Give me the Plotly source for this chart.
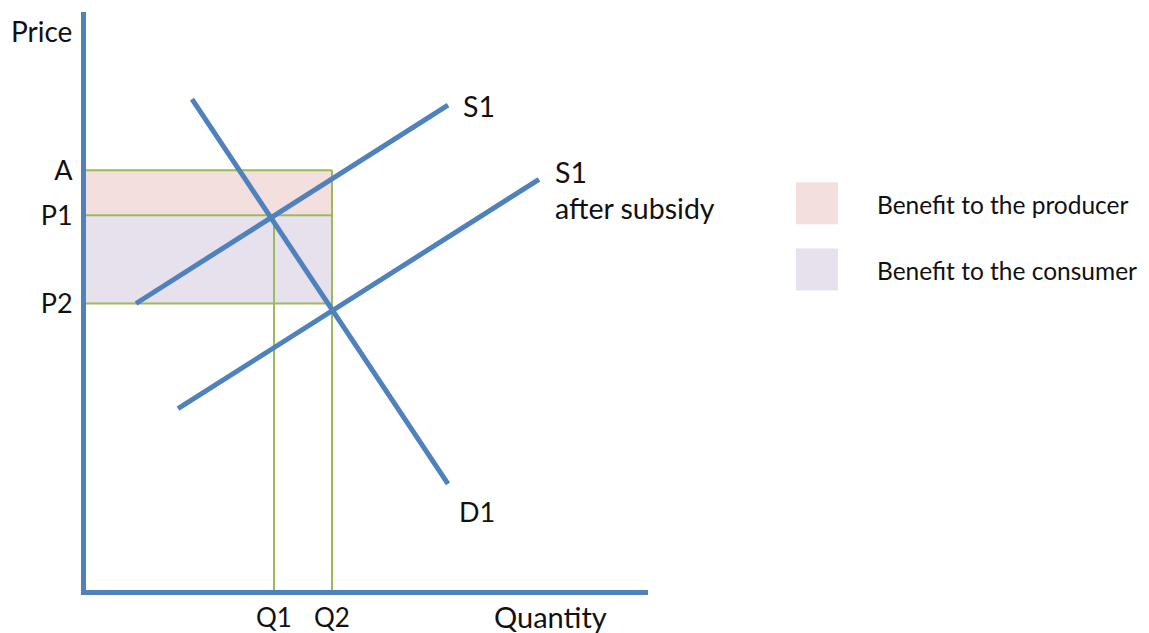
import plotly.graph_objects as go

# ---- data (diagram units: 1 unit = 1 px from the axis origin) ----
price_labels = ["P2", "P1", "A"]
price_values = [286, 374, 419]          # P2, P1, A
qty_labels = ["Q1", "Q2"]
qty_values = [188, 246]                 # Q1, Q2

demand_x = [106, 362]
demand_y = [490, 106]
supply_x = [50, 362]
supply_y = [286, 484]
subsidy_x = [92, 453]
subsidy_y = [181, 410]

legend_labels = ["Benefit to the producer", "Benefit to the consumer"]

BLUE = "#4F81BD"
GREEN = "#9BBB59"
PINK = "#F2DFDE"
LAV = "#E6E1EC"
FONT = "Lato"
INK = "#111111"

P2, P1, A = price_values
Q1, Q2 = qty_values

fig = go.Figure()

# benefit areas
fig.add_trace(go.Scatter(x=[0, Q2, Q2, 0, 0], y=[P1, P1, A, A, P1], fill="toself",
                         fillcolor=PINK, line=dict(width=0), mode="lines",
                         hoverinfo="skip", showlegend=False))
fig.add_trace(go.Scatter(x=[0, Q2, Q2, 0, 0], y=[P2, P2, P1, P1, P2], fill="toself",
                         fillcolor=LAV, line=dict(width=0), mode="lines",
                         hoverinfo="skip", showlegend=False))

# green guide lines
for pv in price_values:
    fig.add_trace(go.Scatter(x=[0, Q2], y=[pv, pv], mode="lines",
                             line=dict(color=GREEN, width=2), showlegend=False, hoverinfo="skip"))
fig.add_trace(go.Scatter(x=[Q1, Q1], y=[0, P1], mode="lines",
                         line=dict(color=GREEN, width=2), showlegend=False, hoverinfo="skip"))
fig.add_trace(go.Scatter(x=[Q2, Q2], y=[0, A], mode="lines",
                         line=dict(color=GREEN, width=2), showlegend=False, hoverinfo="skip"))

# curves
for xs, ys in [(demand_x, demand_y), (supply_x, supply_y), (subsidy_x, subsidy_y)]:
    fig.add_trace(go.Scatter(x=xs, y=ys, mode="lines", line=dict(color=BLUE, width=5),
                             showlegend=False, hoverinfo="skip"))

# reference frame is 1149x633; the photographed page comes out slightly squeezed
# vertically, so the figure is laid out with a small vertical stretch
REF_W, REF_H = 1149, 633
SY = 645 / 633
W, H = REF_W, round(REF_H * SY)
ML, MR = 86, REF_W - 648
MT, MB = 12 * SY, (REF_H - 589) * SY
PW = REF_W - 86 - MR          # plot width in diagram units
PH = 589 - 12                 # plot height in diagram units


def px(xp):
    return (xp - 86) / PW


def py(yp):
    return (589 - yp) / PH


annos = []
annos.append(dict(x=px(9), y=py(31), xref="paper", yref="paper", text="Price",
                  showarrow=False, xanchor="left", yanchor="middle",
                  font=dict(family=FONT, size=28, color=INK)))
annos.append(dict(x=px(550), y=py(615), xref="paper", yref="paper", text="Quantity",
                  showarrow=False, xanchor="center", yanchor="middle",
                  font=dict(family=FONT, size=29, color=INK)))
lab = dict(family=FONT, size=28.5, color=INK)
annos.append(dict(x=supply_x[1] + 13, y=supply_y[1] - 1, xref="x", yref="y", text="S1",
                  showarrow=False, xanchor="left", yanchor="middle", font=lab))
annos.append(dict(x=subsidy_x[1] + 14, y=subsidy_y[1] + 7, xref="x", yref="y", text="S1",
                  showarrow=False, xanchor="left", yanchor="middle", font=lab))
annos.append(dict(x=subsidy_x[1] + 14, y=subsidy_y[1] - 29, xref="x", yref="y", text="after subsidy",
                  showarrow=False, xanchor="left", yanchor="middle", font=lab))
annos.append(dict(x=demand_x[1] + 29, y=demand_y[1] - 28, xref="x", yref="y", text="D1",
                  showarrow=False, xanchor="center", yanchor="middle",
                  font=dict(family=FONT, size=27, color=INK)))

leg = dict(family=FONT, size=24.5, color=INK)
shapes = []
for i, (label, col) in enumerate(zip(legend_labels, [PINK, LAV])):
    top = 182 + i * 66
    shapes.append(dict(type="rect", xref="paper", yref="paper", x0=px(796), x1=px(838),
                       y0=py(top + 42), y1=py(top), fillcolor=col, line=dict(width=0)))
    annos.append(dict(x=px(875), y=py(top + 22), xref="paper", yref="paper", text=label,
                      showarrow=False, xanchor="left", yanchor="middle", font=leg))

fig.update_layout(
    width=W, height=H, margin=dict(l=ML, r=MR, t=MT, b=MB, pad=0),
    paper_bgcolor="white", plot_bgcolor="white",
    annotations=annos, shapes=shapes, showlegend=False,
    xaxis=dict(range=[0, PW], showgrid=False, zeroline=False, showline=True,
               linecolor=BLUE, linewidth=5, tickvals=qty_values, ticktext=qty_labels,
               ticks="", tickfont=dict(family=FONT, size=26, color=INK),
               ticklabelstandoff=1, fixedrange=True),
    yaxis=dict(range=[0, PH], showgrid=False, zeroline=False, showline=True,
               linecolor=BLUE, linewidth=5, tickvals=price_values, ticktext=price_labels,
               ticks="", tickfont=dict(family=FONT, size=27, color=INK),
               ticklabelstandoff=3, fixedrange=True),
)

fig.write_html(
    "out.html",
    config={"displayModeBar": False},
    post_script="document.body.style.margin='0px';document.body.style.overflow='hidden';",
)
